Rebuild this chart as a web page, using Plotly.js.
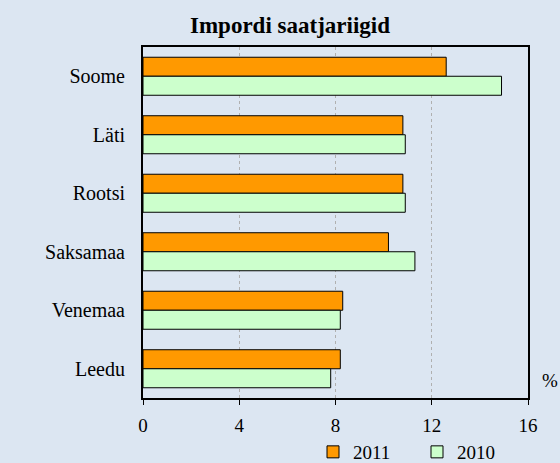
<!DOCTYPE html>
<html>
<head>
<meta charset="utf-8">
<script src="https://cdn.plot.ly/plotly-3.0.1.min.js"></script>
<style>html,body{margin:0;padding:0;background:#dce6f2;}</style>
</head>
<body>
<div id="chart" style="width:560px;height:463px;"></div>
<script>
const categories = ["Soome", "Läti", "Rootsi", "Saksamaa", "Venemaa", "Leedu"];
const values2011 = [12.6, 10.8, 10.8, 10.2, 8.3, 8.2];
const values2010 = [14.9, 10.9, 10.9, 11.3, 8.2, 7.8];
const xTicks = [0, 4, 8, 12, 16];

const font = "Liberation Serif, DejaVu Serif, serif";

const traces = [
  {type: "bar", orientation: "h", name: "2011", y: categories, x: values2011,
   marker: {color: "#ff9900", line: {color: "#000000", width: 1}}},
  {type: "bar", orientation: "h", name: "2010", y: categories, x: values2010,
   marker: {color: "#ccffcc", line: {color: "#000000", width: 1}}}
];

const layout = {
  width: 560, height: 463,
  paper_bgcolor: "#dce6f2", plot_bgcolor: "#dce6f2",
  margin: {l: 143, r: 32, t: 47, b: 65, autoexpand: false},
  font: {family: font, size: 19, color: "#000000"},
  title: {text: "<b>Impordi saatjariigid</b>", font: {family: font, size: 23, color: "#000000"},
          xref: "container", x: 290/560, xanchor: "center",
          yref: "container", y: 1 - 25/463, yanchor: "middle"},
  barmode: "group", bargap: 0.35, bargroupgap: 0,
  xaxis: {range: [0, 16], tickvals: xTicks, ticktext: xTicks.map(String),
          showgrid: true, gridcolor: "#b0b0b0", griddash: "dot", gridwidth: 1,
          zeroline: false, showline: true, linecolor: "#000000", linewidth: 2, mirror: true,
          ticks: "outside", ticklen: 5, tickcolor: "#000000", tickwidth: 1,
          ticklabelstandoff: 4,
          tickfont: {family: font, size: 19, color: "#000000"}, fixedrange: true},
  yaxis: {autorange: "reversed", type: "category", showgrid: false, zeroline: false,
          showline: true, linecolor: "#000000", linewidth: 2, mirror: true,
          ticks: "", ticklabelstandoff: 12,
          tickfont: {family: font, size: 20, color: "#000000"}},
  showlegend: true,
  legend: {orientation: "h", x: (313 - 143) / 385, xanchor: "left",
           y: -(452 - 398) / 351, yanchor: "middle",
           font: {family: font, size: 19, color: "#000000"}, bgcolor: "rgba(0,0,0,0)",
           traceorder: "normal", itemwidth: 30, entrywidth: 59, borderwidth: 0},
  annotations: [{text: "%", xref: "paper", yref: "paper", x: 1, y: 0.051,
                 xanchor: "left", yanchor: "middle", xshift: 12, showarrow: false,
                 font: {family: font, size: 19, color: "#000000"}}]
};

Plotly.newPlot("chart", traces, layout, {displayModeBar: false, staticPlot: true});
</script>
</body>
</html>
